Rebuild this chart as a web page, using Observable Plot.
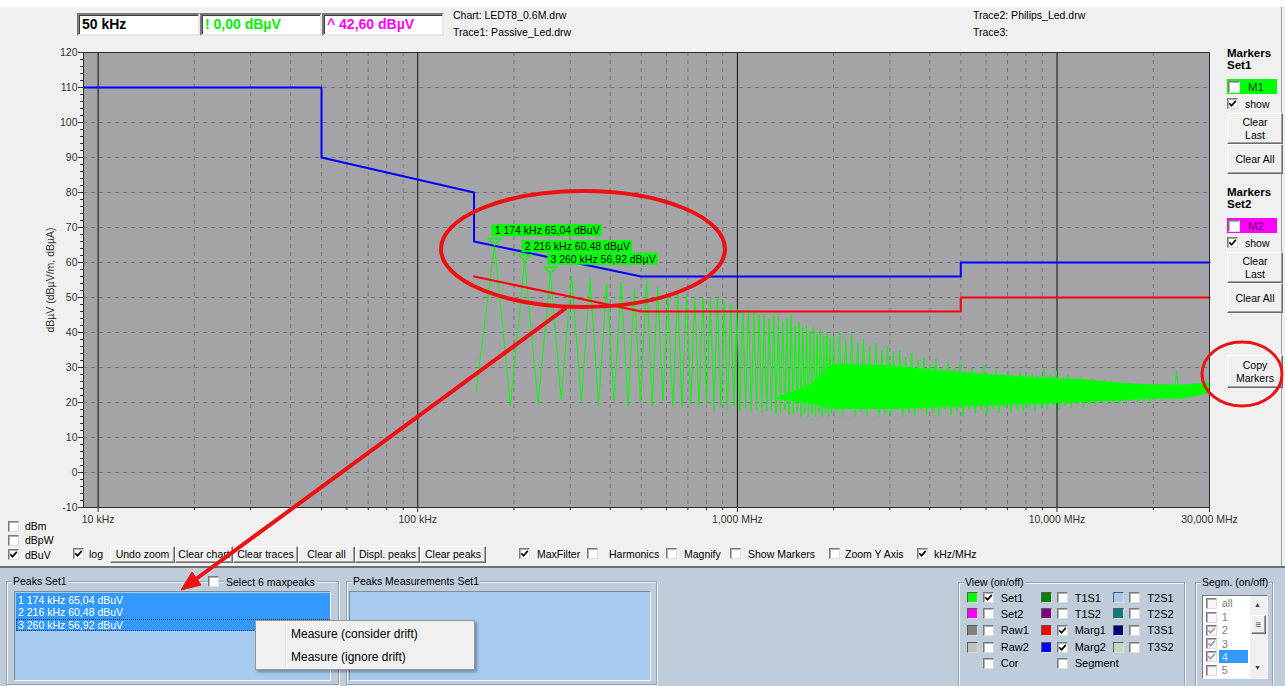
<!DOCTYPE html>
<html>
<head>
<meta charset="utf-8">
<script src="https://cdn.jsdelivr.net/npm/d3@7"></script>
<script src="https://cdn.jsdelivr.net/npm/@observablehq/plot@0.6"></script>
<style>
html,body{margin:0;padding:0;background:#f0f0f0;}
body{width:1285px;height:686px;position:relative;overflow:hidden;font-family:"Liberation Sans",Arial,sans-serif;font-size:10.5px;color:#000;}
#app{position:absolute;left:0;top:0;width:1285px;height:686px;}
</style>
</head>
<body>
<div id="app"></div>
<script>
// ---------------- DATA ----------------
const yTicks = [-10, 0, 10, 20, 30, 40, 50, 60, 70, 80, 90, 100, 110, 120];
const yTickLabels = ["-10", "0", "10", "20", "30", "40", "50", "60", "70", "80", "90", "100", "110", "120"];
const yGridDb = [0, 10, 20, 30, 40, 50, 60, 70, 80, 90, 100, 110];
const xTickKHz = [10, 100, 1000, 10000, 30000];
const xTickLabels = ["10 kHz", "100 kHz", "1,000 MHz", "10,000 MHz", "30,000 MHz"];
const decadeKHz = [10, 100, 1000, 10000];
const minorKHz = [20, 30, 40, 50, 60, 70, 80, 90, 200, 300, 400, 500, 600, 700, 800, 900,
  2000, 3000, 4000, 5000, 6000, 7000, 8000, 9000, 20000];

// Marg2 (blue) limit, kHz / dBµV
const marg2KHz = [9, 50, 50, 150, 150, 500, 5000, 5000, 30000];
const marg2Db = [110, 110, 90, 80, 66, 56, 56, 60, 60];
// Marg1 (red) limit
const marg1KHz = [150, 500, 5000, 5000, 30000];
const marg1Db = [56, 46, 46, 50, 50];

// Set1 trace: harmonic peaks / troughs, 150 kHz - 2 MHz  [kHz, dBµV]
const set1Harmonics = [
  [152,23],[174,65.04],[195,19],[216,60.48],[238,19.5],[260,56.92],[281,21],[303,56],[325,20],[346,55.4],
  [368,19],[390,54],[411,20.5],[433,54.4],[455,19],[476,52.5],[498,20],[520,55.4],[541,19],[563,53],
  [585,20.5],[606,50],[628,19],[650,52],[671,18.5],[693,51],[715,19.5],[736,50],[758,18.5],[780,50],
  [801,19.5],[823,49.6],[845,18],[866,50],[888,19],[910,49],[931,18],[953,48],[975,19],[996,46.8],
  [1018,17.5],[1040,46.3],[1061,18.5],[1083,46.8],[1105,17.5],[1126,46.3],[1148,18],[1170,45],[1191,17],[1213,45.4],
  [1235,17.5],[1256,44],[1278,18],[1300,45],[1321,16.5],[1343,44.5],[1365,17],[1386,43],[1408,18],[1430,44],
  [1451,16.5],[1473,45],[1495,17],[1516,42],[1538,17.5],[1560,43],[1581,16],[1603,41.5],[1625,17],[1646,42],
  [1668,16],[1690,40.5],[1711,17],[1733,41.5],[1755,16],[1776,40],[1798,17],[1820,41],[1841,16],[1863,39],
  [1885,17],[1906,40],[1928,16],[1950,38.5],[1971,17]
];
// Set1 trace: dense part 2 - 30 MHz  [MHz, dBµV]
const set1Dense = [
  [2.00,39],[2.04,17],[2.09,40],[2.13,16],[2.18,38],[2.23,18],[2.28,39.5],[2.33,16],[2.38,37],[2.43,17.5],
  [2.48,38],[2.54,16],[2.59,36],[2.65,18],[2.71,37],[2.77,16],[2.83,35],[2.89,17],[2.95,36],[3.02,16],
  [3.08,34.5],[3.15,18],[3.22,35],[3.29,16],[3.36,33],[3.44,17],[3.51,34],[3.59,16],[3.67,32],[3.75,18],
  [3.83,33],[3.91,16.5],[4.00,31],[4.09,17],[4.18,32.5],[4.27,16],[4.36,30],[4.46,18],[4.56,31.5],[4.66,16.5],
  [4.76,29.5],[4.86,17.5],[4.97,31],[5.08,16],[5.19,28.5],[5.30,18],[5.42,30],[5.54,17],[5.66,28],[5.78,18],
  [5.91,30.5],[6.04,16.5],[6.17,28],[6.31,18],[6.45,29.5],[6.59,17],[6.73,28],[6.88,18.5],[7.03,29],[7.18,17],
  [7.34,27.5],[7.50,18],[7.67,29],[7.84,17.5],[8.01,28],[8.18,18.5],[8.36,28.5],[8.55,17.5],[8.73,27.5],[8.93,18.5],
  [9.12,29.5],[9.32,18],[9.53,28],[9.74,19],[9.95,29],[10.17,18],[10.39,27],[10.62,19],[10.85,28],[11.09,18.5],
  [11.33,27],[11.58,19.5],[11.83,27.5],[12.09,18.5],[12.36,26.5],[12.63,19.5],[12.90,27],[13.19,19],[13.48,26],[13.77,20],
  [14.07,26.5],[14.38,19.5],[14.70,25.5],[15.02,20],[15.35,25],[15.68,19.5],[16.03,25.5],[16.38,20],[16.74,24.5],[17.10,20.5],
  [17.48,25],[17.86,20],[18.25,24.5],[18.65,20.5],[19.06,25],[19.48,20],[19.90,24.5],[20.34,20.5],[20.78,25],[21.24,20.5],
  [21.70,24.5],[22.18,21],[22.66,25],[23.16,20.5],[23.67,29],[24.19,21],[24.72,25],[25.26,21.5],[25.81,25],[26.38,21.5],
  [26.95,25.5],[27.54,22],[28.15,25.5],[28.77,22.5],[29.40,26],[30.00,23.5]
];
// solid core of the dense trace
const coreMHz = [1.3, 1.7, 2, 3, 4.4, 6, 9, 12, 16, 20, 25, 30];
const coreLow = [21, 19.5, 18, 18, 18.5, 19, 19.5, 20, 20.5, 21, 21, 22.5];
const coreHigh = [21, 25, 31, 30.5, 29, 28, 27, 26.5, 25.5, 25, 25, 25.5];

// Set1 markers
const markerKHz = [174, 216, 260];
const markerDb = [65.04, 60.48, 56.92];
const markerLabels = ["1 174 kHz 65,04 dBuV", "2 216 kHz 60,48 dB\u00b5V", "3 260 kHz 56,92 dB\u00b5V"];
const peakListItems = ["1 174 kHz 65,04 dBuV", "2 216 kHz 60,48 dBuV", "3 260 kHz 56,92 dBuV"];

// UI texts
const headerValues = ["50 kHz", "! 0,00 dB\u00b5V", "^ 42,60 dB\u00b5V"];
const headerColors = ["#000000", "#00ee00", "#ff00ff"];
const fileLines = ["Chart: LEDT8_0.6M.drw", "Trace1: Passive_Led.drw", "Trace2: Philips_Led.drw", "Trace3:"];
const viewLabels = [["Set1","Set2","Raw1","Raw2","Cor"],["T1S1","T1S2","Marg1","Marg2","Segment"],["T2S1","T2S2","T3S1","T3S2"]];
const viewColors = [["#00ff00","#ff00ff","#808080","#c0c0c0",null],["#008000","#800080","#ff0000","#0000ff",null],["#a6caf0","#008080","#000080","#c0dcc0"]];
const viewChecked = [[1,0,0,0,0],[0,0,1,1,0],[0,0,0,0]];
const segLabels = ["all","1","2","3","4","5"];
const segChecked = [0,0,1,1,1,0];

// ---------------- TABLES ----------------
const marg2 = marg2KHz.map((f, i) => ({f, db: marg2Db[i]}));
const marg1 = marg1KHz.map((f, i) => ({f, db: marg1Db[i]}));
const trace = set1Harmonics.map(([f, db]) => ({f, db}))
  .concat(set1Dense.map(([m, db]) => ({f: m * 1000, db})));
const core = coreMHz.map((m, i) => ({f: m * 1000, lo: coreLow[i], hi: coreHigh[i]}));
const markers = markerKHz.map((f, i) => ({f, db: markerDb[i], label: markerLabels[i]}));

const downTriangle = {draw(ctx) { ctx.moveTo(-6, -6); ctx.lineTo(6, -6); ctx.lineTo(0, 0); ctx.closePath(); }};
const FONT = '"Liberation Sans", Arial, sans-serif';

const chart = Plot.plot({
  width: 1212, height: 535,
  marginLeft: 83, marginRight: 3, marginTop: 52, marginBottom: 28,
  style: {fontFamily: FONT, fontSize: "10.5px", background: "transparent", color: "#333", overflow: "visible"},
  x: {type: "log", domain: [9, 30000]},
  y: {domain: [-10, 120]},
  marks: [
    Plot.frame({fill: "#a4a4a8", stroke: null}),
    Plot.gridY({ticks: yGridDb, stroke: "#78787c", strokeOpacity: 1, strokeDasharray: "4,4"}),
    Plot.gridX({ticks: minorKHz, stroke: "#78787c", strokeOpacity: 1, strokeDasharray: "4,4"}),
    Plot.gridX({ticks: decadeKHz, stroke: "#111", strokeOpacity: 1, strokeWidth: 1}),
    Plot.areaY(core, {x: "f", y1: "lo", y2: "hi", fill: "#00ff00"}),
    Plot.line(trace, {x: "f", y: "db", stroke: "#00ff00", strokeWidth: 1}),
    Plot.line(marg1, {x: "f", y: "db", stroke: "#ff0000", strokeWidth: 2}),
    Plot.line(marg2, {x: "f", y: "db", stroke: "#0000ff", strokeWidth: 2}),
    Plot.dot(markers, {x: "f", y: "db", symbol: downTriangle, fill: "none", stroke: "#00ff00", strokeWidth: 1.5}),
    Plot.text(markers, {x: "f", y: "db", text: "label", textAnchor: "start", lineAnchor: "middle", dx: 0, dy: -14,
      fill: "#000", fontSize: 10.5}),
    Plot.frame({stroke: "#2a2a2a"}),
    Plot.axisY({ticks: yTicks, tickFormat: d => yTickLabels[yTicks.indexOf(d)], tickSize: 5, tickPadding: 1,
      label: "dB\u00b5V (dB\u00b5V/m, dB\u00b5A)", labelAnchor: "center", labelArrow: "none", labelOffset: 37}),
    Plot.axisY({ticks: d3.range(-10, 121, 2), tickFormat: () => "", tickSize: 3, label: null}),
    Plot.axisX({ticks: xTickKHz, tickFormat: d => xTickLabels[xTickKHz.indexOf(d)], tickSize: 5, tickPadding: 3, label: null}),
    Plot.axisX({ticks: minorKHz, tickFormat: () => "", tickSize: 3, label: null})
  ]
});

const app = document.getElementById("app");
chart.style.position = "absolute";
chart.style.left = "0px";
chart.style.top = "0px";

// ---------------- UI HELPERS ----------------
function box(x, y, w, h, css = "", html = "") {
  const e = document.createElement("div");
  e.style.cssText = `position:absolute;left:${x}px;top:${y}px;width:${w}px;height:${h}px;box-sizing:border-box;${css}`;
  e.innerHTML = html; app.appendChild(e); return e;
}
function label(x, cy, t, css = "") {
  const e = document.createElement("div");
  e.style.cssText = `position:absolute;left:${x}px;top:${cy - 7}px;height:14px;line-height:14px;white-space:nowrap;${css}`;
  e.textContent = t; app.appendChild(e); return e;
}
const CHECK = c => `<svg width="9" height="9" viewBox="0 0 9 9" style="position:absolute;left:0;top:0"><path d="M1.3 4.3 L3.5 6.7 L7.8 1.9" fill="none" stroke="${c}" stroke-width="1.7"/></svg>`;
function checkbox(x, y, checked, disabled = false, size = 11) {
  return box(x, y, size, size, `background:${disabled ? "#f6f6f6" : "#fff"};border:1px solid;border-color:#7a7a7a #dcdcdc #dcdcdc #7a7a7a;box-shadow:inset 1px 1px 0 #b0b0b0;`,
    checked ? CHECK(disabled ? "#a0a0a0" : "#000") : "");
}
function button(x, y, w, h, t, css = "") {
  return box(x, y, w, h, `background:#f0f0f0;border:1px solid;border-color:#ffffff #6b6b6b #6b6b6b #ffffff;box-shadow:inset -1px -1px 0 #a0a0a0;display:flex;align-items:center;justify-content:center;text-align:center;line-height:13px;white-space:nowrap;${css}`, t);
}
function edit(x, y, w, h, t, color) {
  return box(x, y, w, h, `background:#fff;border:2px solid;border-color:#7a7a7a #e8e8e8 #e8e8e8 #7a7a7a;box-shadow:inset 1px 1px 0 #404040;font-weight:bold;font-size:14px;color:${color};padding-left:3px;line-height:19px;white-space:nowrap;`, t);
}
function group(x, y, w, h, title) {
  box(x, y, w, h, `border:1px solid #93a3b6;box-shadow:inset 1px 1px 0 #eef3f8, 1px 1px 0 #eef3f8;`);
  label(x + 6, y, title, "background:#bfcddb;padding:0 1px;");
}

// ---------------- PAGE ----------------
box(0, 0, 1285, 7, "background:#fff;");
app.appendChild(chart);

// green label backgrounds for the markers (found by their text; same transform as the text)
chart.querySelectorAll("text").forEach(t => {
  if (!markerLabels.includes(t.textContent)) return;
  const b = t.getBBox();
  const r = document.createElementNS("http://www.w3.org/2000/svg", "rect");
  r.setAttribute("x", b.x - 3); r.setAttribute("y", b.y);
  r.setAttribute("width", b.width + 5); r.setAttribute("height", b.height);
  r.setAttribute("fill", "#00ff00");
  r.setAttribute("stroke", "none");
  const tr = t.getAttribute("transform");
  if (tr) r.setAttribute("transform", tr);
  t.parentNode.insertBefore(r, t);
});

// header
edit(77, 13, 123, 23, headerValues[0], headerColors[0]);
edit(200, 13, 122, 23, headerValues[1], headerColors[1]);
edit(322, 13, 122, 23, headerValues[2], headerColors[2]);
label(453, 15, fileLines[0]);
label(453, 32, fileLines[1]);
label(973, 15, fileLines[2]);
label(973, 32, fileLines[3]);
box(1281, 7, 1, 560, "background:#a0a0a0;");

// right marker panel
function markerSet(y0, name, setName, color, txtColor) {
  label(1227, y0, "Markers", "font-weight:bold;font-size:11.5px;");
  label(1227, y0 + 12, setName, "font-weight:bold;font-size:11.5px;");
  box(1227, y0 + 26, 50, 15, `background:${color};`);
  checkbox(1228, y0 + 27.5, false, false, 12);
  label(1248, y0 + 33.5, name, `font-size:11.5px;color:${txtColor};`);
  checkbox(1227, y0 + 45, true);
  label(1245, y0 + 50.5, "show");
  button(1227, y0 + 60, 56, 31, "Clear<br>Last");
  button(1227, y0 + 91, 56, 30, "Clear All");
}
markerSet(53, "M1", "Set1", "#00ff00", "#104010");
markerSet(192, "M2", "Set2", "#ff00ff", "#600060");
button(1227, 355, 56, 33, "Copy<br>Markers");

// bottom control row
checkbox(8, 521, false); label(25, 526, "dBm");
checkbox(8, 535, false); label(25, 540, "dBpW");
checkbox(8, 549, true); label(25, 555, "dBuV");
checkbox(73, 548, true); label(89, 554, "log");
[["Undo zoom",110,175],["Clear chart",175,233],["Clear traces",233,298],["Clear all",298,355],["Displ. peaks",355,420],["Clear peaks",420,486]]
  .forEach(([t, a, b]) => button(a, 546, b - a, 17, t));
checkbox(519, 548, true); label(537, 554, "MaxFilter");
checkbox(587, 548, false); label(609, 554, "Harmonics");
checkbox(666, 548, false); label(684, 554, "Magnify");
checkbox(730, 548, false); label(748, 554, "Show Markers");
checkbox(829, 548, false); label(845, 554, "Zoom Y Axis");
checkbox(917, 548, true); label(934, 554, "kHz/MHz");

// bottom panel
box(0, 566, 1285, 120, "background:#bfcddb;border-top:2px solid #6f6f6f;");
group(6, 581, 333, 104, "Peaks Set1");
checkbox(208, 576, false); label(224, 582, "Select 6 maxpeaks", "background:#bfcddb;padding:0 2px;");
box(14, 591, 317, 90, "background:#a6caf0;border:1px solid;border-color:#7a8a9a #f4f8fc #f4f8fc #7a8a9a;");
peakListItems.forEach((t, i) => {
  box(16, 593 + i * 12.8, 314, 12.8, "background:#3399ff;" + (i === 2 ? "outline:1px dotted #1b3d6a;outline-offset:-1px;" : ""));
  label(18, 599.5 + i * 12.8, t, "color:#fff;");
});
group(346, 581, 311, 104, "Peaks Measurements Set1");
box(349, 591, 302, 90, "background:#a6caf0;border:1px solid;border-color:#7a8a9a #f4f8fc #f4f8fc #7a8a9a;");

// context menu
box(255, 620, 220, 50, "background:#f0f0f0;border:1px solid #979797;box-shadow:2px 2px 3px rgba(0,0,0,0.35);");
box(285, 622, 2, 46, "border-left:1px solid #e0e0e0;border-right:1px solid #ffffff;");
label(291, 634, "Measure (consider drift)", "font-size:12px;");
label(291, 657, "Measure (ignore drift)", "font-size:12px;");

// view group
group(958, 582, 227, 110, "View (on/off)");
const viewX = [966.7, 1040.7, 1113.3];
const viewY = [597.7, 613.7, 630.3, 647, 663.3];
viewLabels.forEach((col, c) => col.forEach((t, r) => {
  const x = viewX[c], cy = viewY[r];
  if (viewColors[c][r]) box(x, cy - 5.5, 11, 11, `background:${viewColors[c][r]};border:1px solid;border-color:#5a5a5a #d8d8d8 #d8d8d8 #5a5a5a;`);
  checkbox(x + 16, cy - 5.5, viewChecked[c][r] === 1);
  label(x + 34, cy, t, "font-size:11px;");
}));

// segment group
group(1195, 582, 78, 110, "Segm. (on/off)");
box(1202, 595, 66, 84, "background:#fff;border:1px solid;border-color:#7a7a7a #f4f4f4 #f4f4f4 #7a7a7a;");
const segY = [603.3, 617, 630.3, 643.5, 656.8, 670];
segLabels.forEach((t, i) => {
  if (i === 4) box(1219, segY[i] - 6.5, 29, 13, "background:#3399ff;");
  checkbox(1206, segY[i] - 5.5, segChecked[i] === 1, true);
  label(1221.7, segY[i], t, `font-size:11px;color:${i === 4 ? "#d0e4ff" : "#808080"};`);
});
box(1250, 596, 17, 82, "background:#f0f0f0;");
label(1254, 605, "\u25b2", "font-size:7px;color:#404040;");
button(1251, 615, 15, 19, "\u2261", "font-size:10px;color:#555;");
label(1254, 668, "\u25bc", "font-size:7px;color:#404040;");

// red hand-drawn annotations
const ns = "http://www.w3.org/2000/svg";
const ov = document.createElementNS(ns, "svg");
ov.setAttribute("width", 1285); ov.setAttribute("height", 686);
ov.style.cssText = "position:absolute;left:0;top:0;pointer-events:none;";
ov.innerHTML = `
<ellipse cx="583" cy="249" rx="142" ry="58" fill="none" stroke="#ee1111" stroke-width="4"/>
<line x1="566" y1="308" x2="196" y2="579" stroke="#ee1111" stroke-width="4"/>
<polygon points="181,590 201,585 192,572" fill="#ee1111" stroke="#ee1111" stroke-width="1"/>
<ellipse cx="1242" cy="374" rx="40" ry="32" fill="none" stroke="#ee1111" stroke-width="3"/>`;
app.appendChild(ov);
</script>
</body>
</html>
